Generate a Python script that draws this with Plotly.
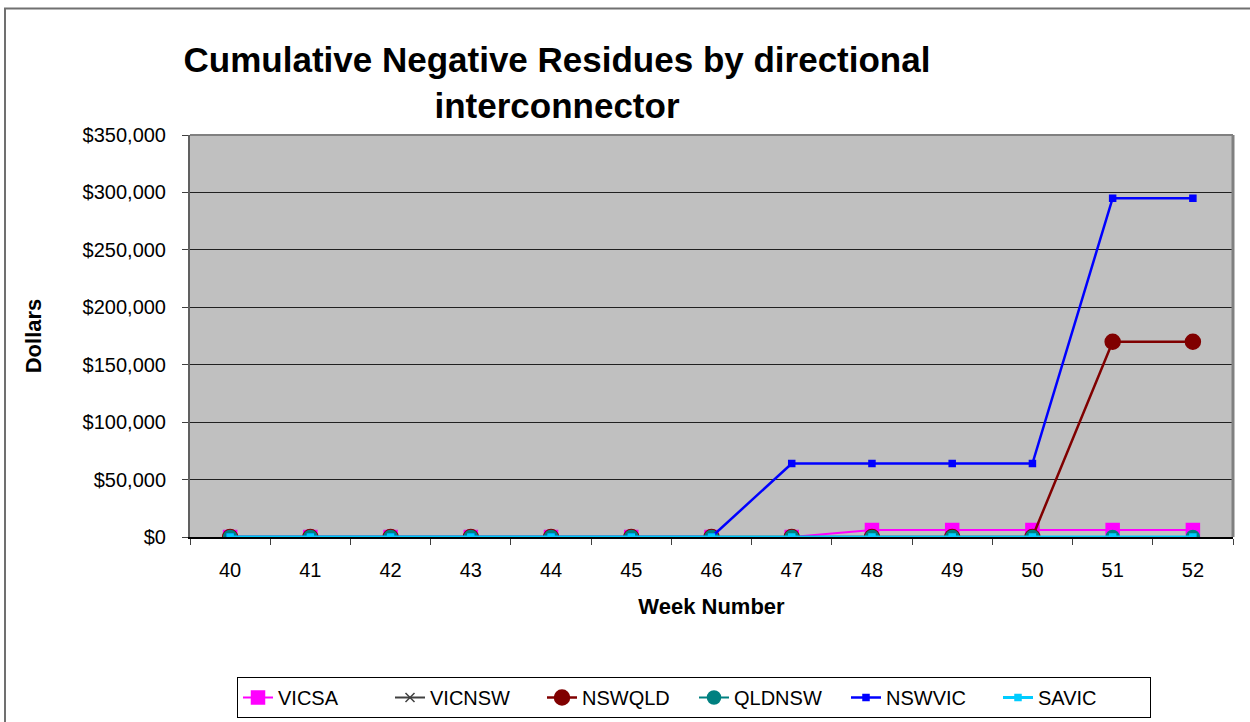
import plotly.graph_objects as go

weeks = ["40", "41", "42", "43", "44", "45", "46", "47", "48", "49", "50", "51", "52"]
vicsa = [0, 0, 0, 0, 0, 0, 0, 0, 6000, 6000, 6000, 6000, 6000]
vicnsw = [0, 0, 0, 0, 0, 0, 0, 0, 0, 0, 0, 0, 0]
nswqld = [0, 0, 0, 0, 0, 0, 0, 0, 0, 0, 0, 170000, 170000]
qldnsw = [0, 0, 0, 0, 0, 0, 0, 0, 0, 0, 0, 0, 0]
nswvic = [0, 0, 0, 0, 0, 0, 0, 64000, 64000, 64000, 64000, 295000, 295000]
savic = [0, 0, 0, 0, 0, 0, 0, 0, 0, 0, 0, 0, 0]

series = [
    ("VICSA", vicsa, "#FF00FF", "square", 13, 2),
    ("VICNSW", vicnsw, "#404040", "x-thin-open", 9, 2),
    ("NSWQLD", nswqld, "#800000", "circle", 15, 2.5),
    ("QLDNSW", qldnsw, "#008080", "circle", 13, 2),
    ("NSWVIC", nswvic, "#0000FF", "square", 6, 2.5),
    ("SAVIC", savic, "#00CCFF", "square", 6, 3),
]

fig = go.Figure()
for name, vals, color, sym, size, lw in series:
    fig.add_trace(go.Scatter(
        x=weeks, y=vals, name=name, mode="lines+markers",
        line=dict(color=color, width=lw),
        marker=dict(symbol=sym, size=size, color=color,
                    line=dict(color=color, width=1.5)),
    ))

W, H = 1250, 722
L, R, T, B = 190, 1233, 135, 537
pw, ph = R - L, B - T

def px(x):
    return (x - L) / pw

def py(y):
    return (B - y) / ph

fig.update_layout(
    width=W, height=H,
    margin=dict(l=L, r=W - R, t=T, b=H - B, autoexpand=False),
    paper_bgcolor="white",
    plot_bgcolor="#C0C0C0",
    font=dict(family="Arial, Liberation Sans, sans-serif", size=20, color="black"),
    title=dict(
        text="<b>Cumulative Negative Residues by directional<br>interconnector</b>",
        font=dict(size=35, color="black"),
        x=557 / W, xanchor="center", xref="container",
        y=1 - 72 / H, yanchor="top", yref="container",
        automargin=False,
    ),
    showlegend=True,
    legend=dict(
        orientation="h",
        x=px(694), xanchor="center",
        y=py(677), yanchor="top",
        bordercolor="black", borderwidth=1,
        bgcolor="white",
        font=dict(size=20),
        itemwidth=30,
        entrywidth=107, entrywidthmode="pixels",
    ),
    xaxis=dict(
        type="category",
        range=[-0.5, 12.5],
        automargin=False,
        tickson="boundaries",
        ticks="outside", ticklen=6, tickcolor="#404040",
        ticklabelstandoff=14,
        showline=True, linecolor="black", linewidth=1.5,
        showgrid=False,
        title=dict(text="<b>Week Number</b>", font=dict(size=22), standoff=19),
        tickfont=dict(size=20),
    ),
    yaxis=dict(
        range=[0, 350000],
        dtick=50000,
        automargin=False,
        tickprefix="$",
        tickformat=",.0f",
        ticks="outside", ticklen=6, tickcolor="#404040",
        ticklabelstandoff=12,
        showline=True, linecolor="#606060", linewidth=2,
        showgrid=True, gridcolor="#202020", gridwidth=1,
        zeroline=False,
        title=dict(text="<b>Dollars</b>", font=dict(size=22), standoff=35),
        tickfont=dict(size=20),
    ),
    shapes=[
        dict(type="rect", xref="paper", yref="paper",
             x0=px(5), x1=px(1262), y0=py(740), y1=py(8.5),
             line=dict(color="#707070", width=2), fillcolor="rgba(0,0,0,0)",
             layer="below"),
        dict(type="line", xref="paper", yref="paper",
             x0=0, x1=1, y0=1, y1=1, line=dict(color="#808080", width=2)),
        dict(type="line", xref="paper", yref="paper",
             x0=1, x1=1, y0=0, y1=1, line=dict(color="#808080", width=3)),
    ],
)

fig.write_html("out.html", config={"displayModeBar": False},
               post_script="document.body.style.margin='0';")
